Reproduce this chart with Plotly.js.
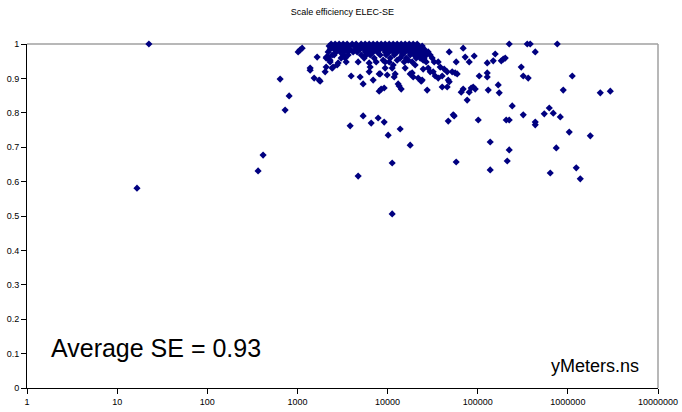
<!DOCTYPE html>
<html>
<head>
<meta charset="utf-8">
<script src="https://cdn.plot.ly/plotly-3.0.1.min.js"></script>
<style>
html,body{margin:0;padding:0;background:#fff;}
#chart{width:682px;height:412px;}
</style>
</head>
<body>
<div id="chart"></div>
<script>
// Isolated and scattered observations (size in meters, scale efficiency)
const scatterSize = [22.5, 16.6, 366, 416, 643, 730, 809, 1018, 1072, 1128, 1655, 1384, 1384, 1532, 1741, 1786,
  2030, 2083, 2191, 2427, 2490, 2758, 2830, 2553, 3945, 6250, 6412, 6250, 6920, 8070, 8070, 9170, 9900, 8935,
  8280, 8490, 9400, 9400, 11540, 11250, 12780, 12140, 11840, 15670, 16930, 18750, 17820, 19240, 21860, 23590,
  24200, 20240, 23000, 24830, 26810, 28230, 29700, 32060, 33730, 24830, 38360, 42460, 40360, 45830, 52100,
  56200, 59200, 47100, 36460, 103900, 127500, 127500, 13110, 13450, 14160, 27500, 40360, 45830, 48300, 65600,
  69000, 84700, 89100, 93800, 80500, 76400, 5357, 4962, 53500, 48300, 69000, 72600, 91400, 80500, 127500, 57700,
  2100, 2300];
const scatterSE = [1.0, 0.581, 0.631, 0.677, 0.898, 0.808, 0.849, 0.977, 0.983, 0.988, 0.962, 0.930, 0.924, 0.901, 0.895, 0.892,
  0.919, 0.933, 0.962, 0.930, 0.933, 0.939, 0.945, 0.968, 0.907, 0.945, 0.933, 0.919, 0.895, 0.913, 0.863, 0.872, 0.910, 0.953,
  0.913, 0.869, 0.930, 0.948, 0.939, 0.930, 0.953, 0.913, 0.904, 0.930, 0.953, 0.916, 0.913, 0.904, 0.901, 0.892,
  0.895, 0.939, 0.959, 0.953, 0.948, 0.930, 0.919, 0.919, 0.907, 0.927, 0.933, 0.927, 0.907, 0.919, 0.919,
  0.916, 0.913, 0.895, 0.901, 0.907, 0.916, 0.904, 0.884, 0.878, 0.869, 0.866, 0.875, 0.875, 0.890, 0.860,
  0.869, 0.872, 0.875, 0.869, 0.860, 0.837, 0.884, 0.904, 0.794, 0.977, 0.988, 0.962, 0.965, 0.948, 0.945, 0.948,
  0.962, 0.953];

// Lower-efficiency observations
const lowSize = [5357, 3845, 6580, 7860, 9170, 13800, 10160, 17820, 11250, 4716, 47100, 54800, 101400, 57700, 11250,
  137600, 137600];
const lowSE = [0.791, 0.762, 0.770, 0.785, 0.773, 0.753, 0.735, 0.706, 0.654, 0.616, 0.776, 0.791, 0.779, 0.657, 0.506,
  0.715, 0.634];

// Large meters (right part of the chart)
const largeSize = [223600, 354300, 382500, 762900, 434800, 156400, 148700, 182500, 192000, 202000, 304000, 320000,
  363100, 1119000, 168900, 130800, 173300, 889000, 2290000, 2957000, 241500, 207200, 223600, 320000, 622000,
  547400, 689000, 824000, 434800, 434800, 1036000, 1774000, 223600, 743600, 212600, 638000, 1239000, 1373000];
const largeSE = [1.0, 1.0, 1.0, 1.0, 0.977, 0.971, 0.951, 0.951, 0.956, 0.959, 0.933, 0.907,
  0.901, 0.907, 0.881, 0.866, 0.858, 0.866, 0.858, 0.863, 0.820, 0.779, 0.779, 0.794, 0.814,
  0.797, 0.799, 0.788, 0.773, 0.765, 0.744, 0.733, 0.692, 0.698, 0.660, 0.625, 0.640, 0.608];

// Dense cluster of fully / nearly scale-efficient meters
const clusterSize = [
  2366, 2620, 2903, 3215, 3562, 4047, 4482, 5093, 5642, 6250, 6922, 7667, 8493, 9407, 10418, 11540, 12781, 14157, 15681, 17369, 19236, 21305,
  2248, 2490, 2758, 3055, 3384, 3749, 4260, 4717, 5225, 5788, 6411, 7102, 7866, 8713, 9650, 10688, 11839, 13112, 14524, 16087, 17819, 19734, 21857, 24207,
  2307, 2554, 2829, 3134, 3472, 3846, 4482, 4964, 5500, 6091, 6748, 7473, 8278, 9169, 10155, 11248, 12458, 13800, 15285, 16930, 18750, 20768, 23000, 25477,
  2191, 2688, 2978, 3299, 3654, 4152, 4598, 5642, 6250, 6922, 7667, 9407, 10418, 11540, 12781, 14157, 15681, 17369, 19236, 21305, 23597, 26137, 28217,
  2427, 3215, 3654, 5093, 5788, 6411, 8278, 9650, 11839, 14524, 17819, 19734, 21857, 24207, 26813, 29697,
  2083, 3055, 3384, 5500, 7102, 10688, 13800, 16087, 20768, 25477, 31260,
  2307, 3472, 4717, 7473, 10418, 15285, 18750, 32900, 36440];
const clusterSE = [
  1.0, 1.0, 1.0, 1.0, 1.0, 1.0, 1.0, 1.0, 1.0, 1.0, 1.0, 1.0, 1.0, 1.0, 1.0, 1.0, 1.0, 1.0, 1.0, 1.0, 1.0, 1.0,
  0.994, 0.994, 0.994, 0.994, 0.994, 0.994, 0.994, 0.994, 0.994, 0.994, 0.994, 0.994, 0.994, 0.994, 0.994, 0.994, 0.994, 0.994, 0.994, 0.994, 0.994, 0.994, 0.994, 0.994,
  0.985, 0.985, 0.985, 0.985, 0.985, 0.985, 0.985, 0.985, 0.985, 0.985, 0.985, 0.985, 0.985, 0.985, 0.985, 0.985, 0.985, 0.985, 0.985, 0.985, 0.985, 0.985, 0.985, 0.985,
  0.977, 0.977, 0.977, 0.977, 0.977, 0.977, 0.977, 0.977, 0.977, 0.977, 0.977, 0.977, 0.977, 0.977, 0.977, 0.977, 0.977, 0.977, 0.977, 0.977, 0.977, 0.977, 0.977,
  0.968, 0.968, 0.968, 0.968, 0.968, 0.968, 0.968, 0.968, 0.968, 0.968, 0.968, 0.968, 0.968, 0.968, 0.968, 0.968,
  0.959, 0.959, 0.959, 0.959, 0.959, 0.959, 0.959, 0.959, 0.959, 0.959, 0.959,
  0.948, 0.948, 0.948, 0.948, 0.948, 0.948, 0.948, 0.948, 0.948];

const xTickVals = [1, 10, 100, 1000, 10000, 100000, 1000000, 10000000];
const xTickText = ['1', '10', '100', '1000', '10000', '100000', '1000000', '10000000'];
const yTickVals = [0, 0.1, 0.2, 0.3, 0.4, 0.5, 0.6, 0.7, 0.8, 0.9, 1];
const yTickText = ['0', '0.1', '0.2', '0.3', '0.4', '0.5', '0.6', '0.7', '0.8', '0.9', '1'];

const allSize = clusterSize.concat(scatterSize, lowSize, largeSize);
const allSE = clusterSE.concat(scatterSE, lowSE, largeSE);

const trace = {
  x: allSize,
  y: allSE,
  type: 'scatter',
  mode: 'markers',
  cliponaxis: false,
  marker: {symbol: 'diamond', size: 5.5, color: '#000080', line: {width: 0}},
  hoverinfo: 'x+y'
};

const tickFont = {family: 'Liberation Sans, Arial, sans-serif', size: 9, color: '#000'};

const layout = {
  width: 682,
  height: 412,
  margin: {l: 27, r: 24, t: 44, b: 24},
  paper_bgcolor: '#fff',
  plot_bgcolor: '#fff',
  showlegend: false,
  title: {
    text: 'Scale efficiency ELEC-SE',
    font: {family: 'Liberation Sans, Arial, sans-serif', size: 9, color: '#000'},
    x: 0.502, xanchor: 'center', y: 0.972, yanchor: 'middle'
  },
  xaxis: {
    type: 'log',
    range: [0, 7],
    tickvals: xTickVals,
    ticktext: xTickText,
    ticks: 'outside',
    ticklen: 5,
    tickcolor: '#000',
    tickwidth: 1,
    showline: true,
    linecolor: '#000',
    linewidth: 1,
    showgrid: false,
    zeroline: false,
    tickfont: tickFont,
    fixedrange: true
  },
  yaxis: {
    range: [0, 1],
    tickvals: yTickVals,
    ticktext: yTickText,
    ticks: 'outside',
    ticklen: 5,
    tickcolor: '#000',
    tickwidth: 1,
    showline: true,
    linecolor: '#000',
    linewidth: 1,
    showgrid: false,
    zeroline: false,
    tickfont: tickFont,
    fixedrange: true
  },
  shapes: [
    {type: 'line', xref: 'paper', yref: 'paper', x0: 0, x1: 1, y0: 1, y1: 1, layer: 'below', line: {color: '#a0a0a0', width: 1.5}},
    {type: 'line', xref: 'paper', yref: 'paper', x0: 1, x1: 1, y0: 0, y1: 1, layer: 'below', line: {color: '#a0a0a0', width: 1.5}}
  ],
  annotations: [
    {
      text: 'Average SE = 0.93',
      xref: 'paper', yref: 'paper', x: 0.035, y: 0.115, xanchor: 'left', yanchor: 'middle',
      showarrow: false,
      font: {family: 'Liberation Sans, Arial, sans-serif', size: 25, color: '#000'}
    },
    {
      text: 'yMeters.ns',
      xref: 'paper', yref: 'paper', x: 0.973, y: 0.064, xanchor: 'right', yanchor: 'middle',
      showarrow: false,
      font: {family: 'Liberation Sans, Arial, sans-serif', size: 18, color: '#000'}
    }
  ]
};

Plotly.newPlot('chart', [trace], layout, {displayModeBar: false, staticPlot: true});
</script>
</body>
</html>
